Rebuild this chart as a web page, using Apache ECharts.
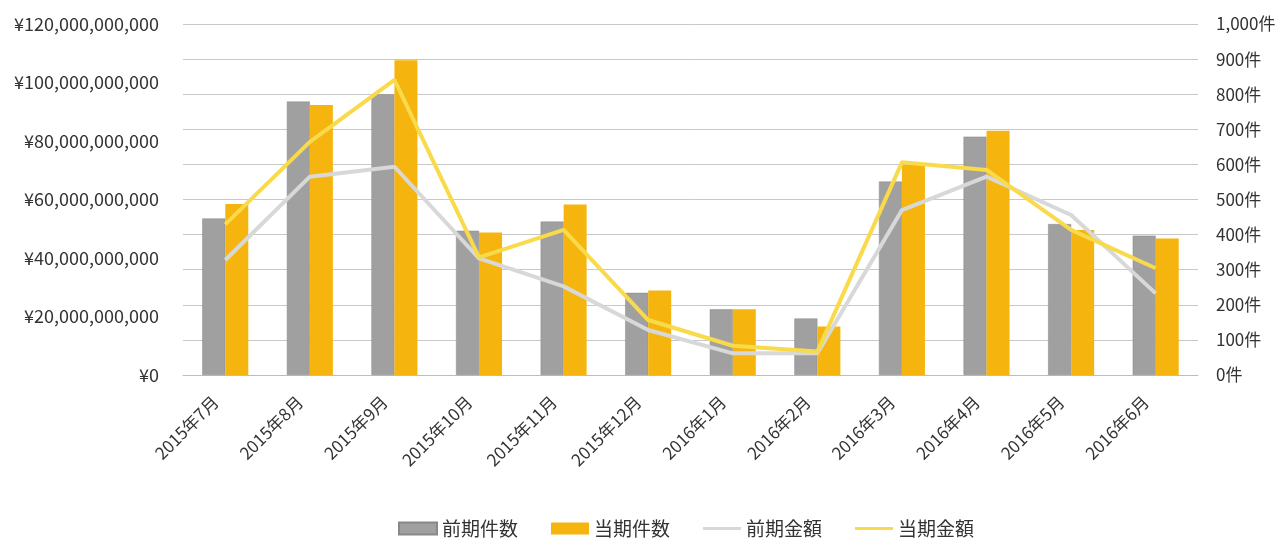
<!DOCTYPE html>
<html>
<head>
<meta charset="utf-8">
<script src="https://cdn.jsdelivr.net/npm/echarts@6/dist/echarts.min.js"></script>
<style>
html,body{margin:0;padding:0;background:#fff;}
#main{width:1281px;height:538px;}
</style>
</head>
<body>
<div id="main"></div>
<script>
const categories = ['2015年7月','2015年8月','2015年9月','2015年10月','2015年11月','2015年12月','2016年1月','2016年2月','2016年3月','2016年4月','2016年5月','2016年6月'];
const prevCount = [446, 779, 800, 411, 437, 234, 187, 161, 551, 679, 430, 397];
const currCount = [487, 769, 897, 406, 486, 241, 187, 138, 598, 696, 413, 389];
const prevAmount = [39.3e9, 67.8e9, 71.2e9, 39.9e9, 30.3e9, 15.4e9, 7.4e9, 7.4e9, 56.4e9, 67.8e9, 54.7e9, 27.9e9];
const currAmount = [51.5e9, 79.7e9, 100.9e9, 40.2e9, 49.6e9, 18.8e9, 10.0e9, 8.0e9, 72.7e9, 70.1e9, 49.6e9, 36.5e9];
const seriesNames = ['前期件数','当期件数','前期金額','当期金額'];

function commas(v){ return String(Math.round(v)).replace(/\B(?=(\d{3})+(?!\d))/g, ','); }

const FONT = '"Noto Sans CJK JP", "Noto Sans", sans-serif';
const LINE_ICON = 'path://M0,0 L40,0 L40,3 L0,3 Z';
const chart = echarts.init(document.getElementById('main'));
chart.setOption({
  animation: false,
  textStyle: { fontFamily: FONT },
  grid: { left: 183, right: 83, top: 24, bottom: 163 },
  legend: {
    top: 514,
    left: 393,
    itemGap: 33,
    itemWidth: 38,
    itemHeight: 12,
    textStyle: { fontSize: 19, color: '#333', fontFamily: FONT },
    data: [
      { name: seriesNames[0], icon: 'rect' },
      { name: seriesNames[1], icon: 'rect' },
      { name: seriesNames[2], icon: LINE_ICON, itemStyle: { color: '#d8d8d8' } },
      { name: seriesNames[3], icon: LINE_ICON, itemStyle: { color: '#f9da4a' } }
    ]
  },
  xAxis: {
    type: 'category',
    data: categories,
    axisLine: { lineStyle: { color: '#bdbdbd' } },
    axisTick: { length: 5, lineStyle: { color: '#aaa' } },
    axisLabel: { rotate: 45, fontSize: 17, color: '#333', margin: 14, padding: [0, 14, 0, 0], interval: 0, fontFamily: FONT }
  },
  yAxis: [
    {
      type: 'value', min: 0, max: 120e9, interval: 20e9,
      splitLine: { show: false },
      axisLine: { show: false }, axisTick: { show: false },
      axisLabel: { fontSize: 18, color: '#333', margin: 24, fontFamily: FONT,
        formatter: v => '¥' + commas(v) }
    },
    {
      type: 'value', min: 0, max: 1000, interval: 100,
      splitLine: { lineStyle: { color: '#c8c8c8', width: 1 } },
      axisLine: { show: false }, axisTick: { show: false },
      axisLabel: { fontSize: 17, color: '#333', margin: 18, fontFamily: FONT,
        formatter: v => commas(v) + '件' }
    }
  ],
  series: [
    { name: seriesNames[0], type: 'bar', yAxisIndex: 1, data: prevCount, barWidth: 23, barGap: '0%',
      itemStyle: { color: '#a0a0a0', borderColor: '#888888', borderWidth: 0.5 } },
    { name: seriesNames[1], type: 'bar', yAxisIndex: 1, data: currCount, barWidth: 23, barGap: '0%',
      itemStyle: { color: '#f5b50e' } },
    { name: seriesNames[2], type: 'line', yAxisIndex: 0, data: prevAmount, symbol: 'none', z: 5,
      lineStyle: { color: '#d8d8d8', width: 4 }, itemStyle: { color: '#d8d8d8' } },
    { name: seriesNames[3], type: 'line', yAxisIndex: 0, data: currAmount, symbol: 'none', z: 6,
      lineStyle: { color: '#f9da4a', width: 4 }, itemStyle: { color: '#f9da4a' } }
  ]
});
</script>
</body>
</html>
